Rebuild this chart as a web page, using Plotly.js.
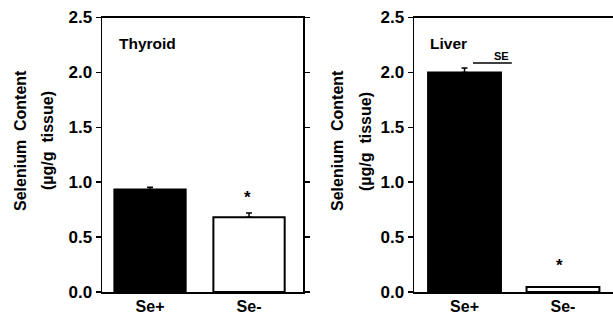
<!DOCTYPE html>
<html>
<head>
<meta charset="utf-8">
<script src="https://cdn.plot.ly/plotly-3.0.1.min.js"></script>
<style>html,body{margin:0;padding:0;background:#fff;}#chart{width:613px;height:315px;}</style>
</head>
<body>
<div id="chart"></div>
<script>
// Data
const categories = ["Se+", "Se-"];
const thyroidValues = [0.934, 0.68];
const thyroidSE = [0.02, 0.04];
const liverValues = [2.0, 0.045];
const liverSE = [0.04, 0.0];
const barFill = ["#000000", "#ffffff"];
const yTickVals = [0, 0.5, 1.0, 1.5, 2.0, 2.5];
const yTickText = ["0.0", "0.5", "1.0", "1.5", "2.0", "2.5"];
const panelTitles = ["Thyroid", "Liver"];
const yTitleLines = ["Selenium&nbsp;&nbsp;Content", "(µg/g&nbsp;&nbsp;tissue)"];
const starY = [0.86, 0.245];

const FONT = "Arial, 'Liberation Sans', Helvetica, sans-serif";

const traces = [
  {
    type: "bar", x: categories, y: thyroidValues, xaxis: "x", yaxis: "y",
    width: 0.72,
    marker: {color: barFill, line: {color: "#000", width: 2}},
    error_y: {type: "data", symmetric: false, array: thyroidSE, arrayminus: [0, 0], color: "#000", thickness: 1.5, width: 3},
    hoverinfo: "none", showlegend: false
  },
  {
    type: "bar", x: categories, y: liverValues, xaxis: "x2", yaxis: "y2",
    width: 0.74,
    marker: {color: barFill, line: {color: "#000", width: 2}},
    error_y: {type: "data", symmetric: false, array: liverSE, arrayminus: [0, 0], color: "#000", thickness: 1.5, width: 3},
    hoverinfo: "none", showlegend: false
  }
];

const yAxisBase = {
  range: [0, 2.5], tickvals: yTickVals, ticktext: yTickText,
  ticks: "outside", ticklen: 5, tickwidth: 1.5, tickcolor: "#000",
  showline: true, linecolor: "#000", linewidth: 1.5,
  showgrid: false, zeroline: false, fixedrange: true,
  tickfont: {family: FONT, size: 17, color: "#000", weight: "bold"},
  domain: [0.073, 0.9444]
};
const xAxisBase = {
  type: "category", ticks: "", showline: true, linecolor: "#000", linewidth: 1.5,
  mirror: true, showgrid: false, zeroline: false, fixedrange: true,
  ticklabelstandoff: -1,
  tickfont: {family: FONT, size: 16, color: "#000", weight: "bold"}
};

const annotations = [];
const axesIdx = [["x", "y", 102, 20, 47, 117], ["x2", "y2", 414, 337, 365, 428]];
axesIdx.forEach((a, i) => {
  annotations.push({xref: "paper", yref: "paper", x: a[5] / 613, y: 1 - 44 / 315, xanchor: "left", yanchor: "middle",
    text: panelTitles[i], showarrow: false, font: {family: FONT, size: 15.5, color: "#000", weight: "bold"}});
  yTitleLines.forEach((t, k) => {
    annotations.push({xref: "paper", yref: "paper", x: a[3 + k] / 613, y: 1 - 141 / 315, xanchor: "center", yanchor: "middle",
      textangle: -90, text: t, showarrow: false, font: {family: FONT, size: 16, color: "#000", weight: "bold"}});
  });
  annotations.push({xref: a[0], yref: a[1], x: i === 0 ? 0.98 : 0.96, y: starY[i], text: "*", showarrow: false,
    font: {family: FONT, size: 17, color: "#000", weight: "bold"}});
});
annotations.push({xref: "x2", yref: "y2", x: 0.38, y: 2.15, text: "SE", showarrow: false,
  font: {family: FONT, size: 11, color: "#000", weight: "bold"}});

const layout = {
  width: 613, height: 315,
  margin: {l: 0, r: 0, t: 0, b: 0},
  paper_bgcolor: "#fff", plot_bgcolor: "#fff",
  bargap: 0.2,
  xaxis: Object.assign({}, xAxisBase, {domain: [102 / 613, 303 / 613], range: [-0.485, 1.545], anchor: "y"}),
  yaxis: Object.assign({}, yAxisBase, {mirror: "ticks", anchor: "x"}),
  xaxis2: Object.assign({}, xAxisBase, {domain: [414 / 613, 1], range: [-0.513, 1.508], anchor: "y2"}),
  yaxis2: Object.assign({}, yAxisBase, {mirror: false, anchor: "x2"}),
  annotations: annotations,
  shapes: [{type: "line", xref: "x2", yref: "y2", x0: 0.086, x1: 0.48, y0: 2.085, y1: 2.085, line: {color: "#000", width: 1.5}}]
};

Plotly.newPlot("chart", traces, layout, {displayModeBar: false, staticPlot: true});
</script>
</body>
</html>
